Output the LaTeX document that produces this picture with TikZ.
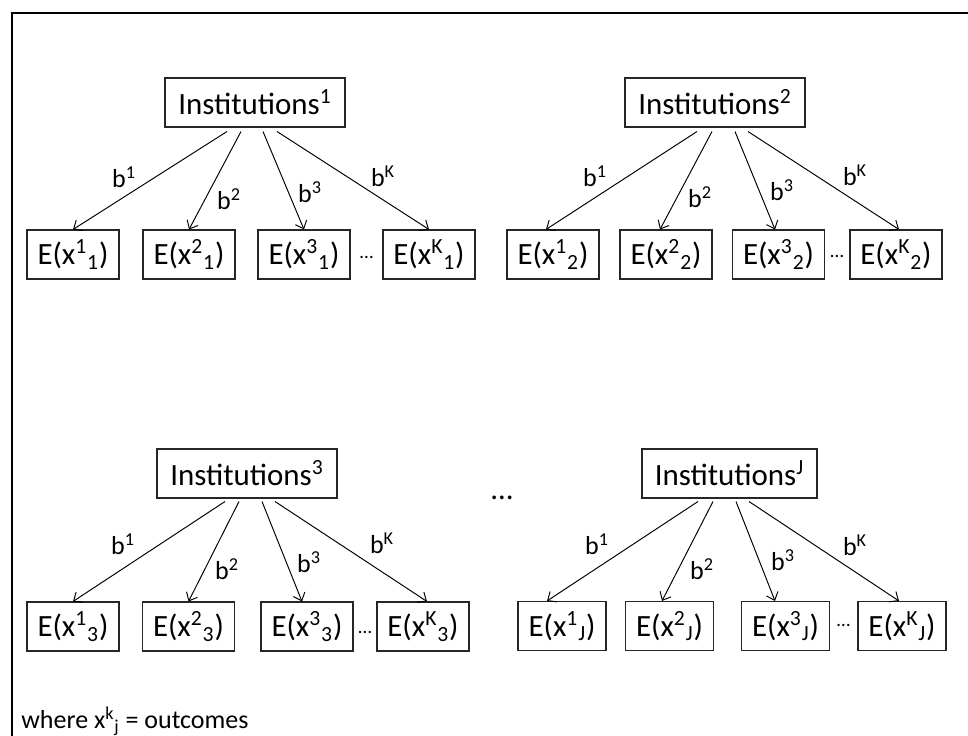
\documentclass[tikz,border=0pt]{standalone}
\usepackage{fontspec}
\setmainfont{Carlito}
\usetikzlibrary{arrows.meta,calc}

\begin{document}
\begin{tikzpicture}[x=0.02cm, y=-0.02cm, font=\fontsize{17.6}{20}\selectfont, >={Straight Barb[length=4pt,width=7pt]}, line/.style={->, line width=0.55pt, draw=black}]

% styles
\tikzset{
  inst/.style={rectangle, draw=black!85, line width=0.6pt, minimum height=0.98cm, minimum width=3.6cm, inner sep=2pt},
  outc/.style={rectangle, draw=black!85, line width=0.6pt, minimum height=0.98cm, minimum width=1.84cm, inner sep=2pt},
  coef/.style={font=\fontsize{14.8}{17}\selectfont, inner sep=0pt},
  gap/.style={font=\fontsize{11}{13}\selectfont, inner sep=0pt, anchor=base}
}

% page size and the open frame (left and top only)
\useasboundingbox (0,0) rectangle (968,736);
\draw[line width=1.3pt] (12,736) -- (12,13) -- (968,13);

% first institution, top left
\node[inst] (I1) at (255,102.5) {Institutions\textsuperscript{1}};
\node[outc] (E11) at (73,254.5) {E(x\textsuperscript{1}\textsubscript{1})};
\node[outc] (E12) at (189,254.5) {E(x\textsuperscript{2}\textsubscript{1})};
\node[outc] (E13) at (304,254.5) {E(x\textsuperscript{3}\textsubscript{1})};
\node[outc] (E14) at (429,254.5) {E(x\textsuperscript{K}\textsubscript{1})};
\node[gap] (d1) at (366.5,259) {\ldots};

% second institution, top right
\node[inst] (I2) at (715,102.5) {Institutions\textsuperscript{2}};
\node[outc] (E21) at (553,254.5) {E(x\textsuperscript{1}\textsubscript{2})};
\node[outc] (E22) at (666,254.5) {E(x\textsuperscript{2}\textsubscript{2})};
\node[outc] (E23) at (778.5,254.5) {E(x\textsuperscript{3}\textsubscript{2})};
\node[outc] (E24) at (896,254.5) {E(x\textsuperscript{K}\textsubscript{2})};
\node[gap] (d2) at (837,258) {\ldots};

% third institution, bottom left
\node[inst] (I3) at (247,473.5) {Institutions\textsuperscript{3}};
\node[outc] (E31) at (73,626.5) {E(x\textsuperscript{1}\textsubscript{3})};
\node[outc] (E32) at (188.5,626.5) {E(x\textsuperscript{2}\textsubscript{3})};
\node[outc] (E33) at (307,626.5) {E(x\textsuperscript{3}\textsubscript{3})};
\node[outc] (E34) at (423,626.5) {E(x\textsuperscript{K}\textsubscript{3})};
\node[gap] (d3) at (365,634) {\ldots};

% last institution, bottom right
\node[inst, minimum width=3.5cm] (I4) at (729.5,473.5) {Institutions\textsuperscript{J}};
\node[outc, minimum width=1.76cm] (E41) at (562,626) {E(x\textsuperscript{1}\textsubscript{J})};
\node[outc, minimum width=1.76cm] (E42) at (669.5,626) {E(x\textsuperscript{2}\textsubscript{J})};
\node[outc, minimum width=1.76cm] (E43) at (785.5,626) {E(x\textsuperscript{3}\textsubscript{J})};
\node[outc, minimum width=1.76cm] (E44) at (902,626) {E(x\textsuperscript{K}\textsubscript{J})};
\node[gap] (d4) at (843.5,627) {\ldots};

% dots between the two lower trees
\node[inner sep=0pt, anchor=base] (dmid) at (502,500) {\ldots};

% arrows, each leaving a little below the institution box
\draw[line] ($(I1.south)+(-28,4)$) -- (E11.north);
\draw[line] ($(I1.south)+(-14,4)$) -- (E12.north);
\draw[line] ($(I1.south)+(8,4)$) -- (E13.north);
\draw[line] ($(I1.south)+(22,4)$) -- (E14.north);

\draw[line] ($(I2.south)+(-18,4)$) -- ($(E21.north)+(-7,0)$);
\draw[line] ($(I2.south)+(-3,4)$) -- ($(E22.north)+(-6,0)$);
\draw[line] ($(I2.south)+(20,4)$) -- ($(E23.north)+(-3.5,0)$);
\draw[line] ($(I2.south)+(33,4)$) -- ($(E24.north)+(3,0)$);

\draw[line] ($(I3.south)+(-22,3)$) -- (E31.north);
\draw[line] ($(I3.south)+(-8,3)$) -- (E32.north);
\draw[line] ($(I3.south)+(15,3)$) -- ($(E33.north)+(-5,0)$);
\draw[line] ($(I3.south)+(28,3)$) -- ($(E34.north)+(4,0)$);

\draw[line] ($(I4.south)+(-31.5,3)$) -- ($(E41.north)+(-15,0)$);
\draw[line] ($(I4.south)+(-16.5,3)$) -- ($(E42.north)+(-7.5,0)$);
\draw[line] ($(I4.south)+(6.5,3)$) -- ($(E43.north)+(-10.5,0)$);
\draw[line] ($(I4.south)+(19.5,3)$) -- ($(E44.north)+(-3,0)$);

% arrow labels
\node[coef] (b11) at (124,177) {b\textsuperscript{1}};
\node[coef] (b12) at (229,199) {b\textsuperscript{2}};
\node[coef] (b13) at (310,192) {b\textsuperscript{3}};
\node[coef] (b14) at (383,176) {b\textsuperscript{K}};

\node[coef] (b21) at (595,176) {b\textsuperscript{1}};
\node[coef] (b22) at (700,197) {b\textsuperscript{2}};
\node[coef] (b23) at (782,190) {b\textsuperscript{3}};
\node[coef] (b24) at (855,175) {b\textsuperscript{K}};

\node[coef] (b31) at (123,544) {b\textsuperscript{1}};
\node[coef] (b32) at (227,569) {b\textsuperscript{2}};
\node[coef] (b33) at (309,562) {b\textsuperscript{3}};
\node[coef] (b34) at (382,543) {b\textsuperscript{K}};

\node[coef] (b41) at (597,544) {b\textsuperscript{1}};
\node[coef] (b42) at (702,569) {b\textsuperscript{2}};
\node[coef] (b43) at (783,560) {b\textsuperscript{3}};
\node[coef] (b44) at (855,545) {b\textsuperscript{K}};

% note at the bottom
\node[coef, anchor=base west] (note) at (21,729) {where x\textsuperscript{k}\textsubscript{j} = outcomes};

\end{tikzpicture}
\end{document}
